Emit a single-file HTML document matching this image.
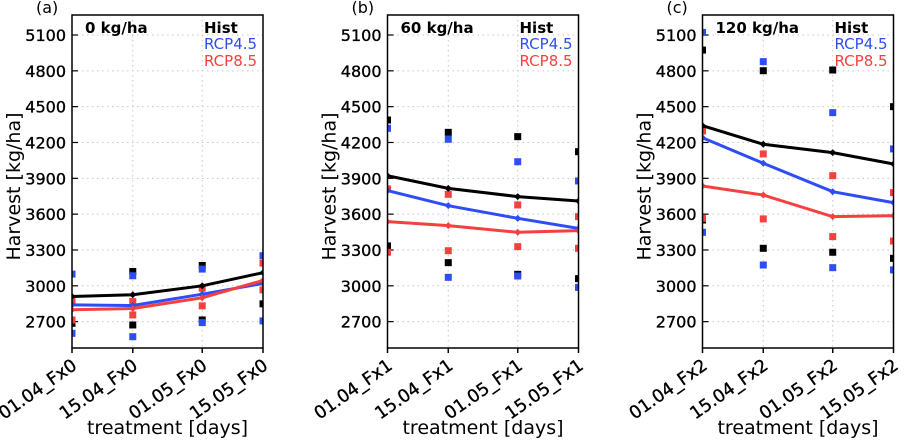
<!DOCTYPE html>
<html><head><meta charset="utf-8"><style>
body{margin:0;background:#fff}
svg{display:block;font-family:"DejaVu Sans","Liberation Sans",sans-serif}
</style></head><body>
<svg id="c" width="912" height="441" viewBox="0 0 912 441"></svg>
<script>
const yTicks=[2700,3000,3300,3600,3900,4200,4500,4800,5100];
const days=[0,14,30,44];
const panelLetters=["(a)","(b)","(c)"];
const panelTitles=["0 kg/ha","60 kg/ha","120 kg/ha"];
const catLabels=[["01.04_Fx0","15.04_Fx0","01.05_Fx0","15.05_Fx0"],["01.04_Fx1","15.04_Fx1","01.05_Fx1","15.05_Fx1"],["01.04_Fx2","15.04_Fx2","01.05_Fx2","15.05_Fx2"]];
const histMean=[[2910,2925,3000,3110],[3922,3816,3747,3710],[4341,4185,4115,4020]];
const rcp45Mean=[[2840,2835,2930,3020],[3797,3671,3565,3481],[4240,4026,3788,3696]];
const rcp85Mean=[[2800,2810,2900,3045],[3537,3504,3448,3462],[3836,3760,3579,3587]];
const histPts=[[[2686],[3120,2672],[3170,2714],[2849]],[[4388,3334],[4285,3194],[4249,3096],[4123,3060]],[[4974,3551],[4801,3314],[4807,3281],[4500,3230]]];
const rcp45Pts=[[[3098,2602],[3084,2574],[3140,2692],[3252,2706]],[[4319],[4227,3071],[4039,3082],[3878,2987]],[[5122,3448],[4877,3174],[4450,3152],[4146,3133]]];
const rcp85Pts=[[[2868,2714],[2868,2756],[2980,2832],[3190,2966]],[[3811,3281],[3766,3294],[3677,3328],[3579,3314]],[[4296,3565],[4104,3560],[3922,3412],[3780,3375]]];
const colors={hist:"#000",r45:"#2e4df5",r85:"#f54040"};
const lefts=[72,387.5,702.5], W=191, TOP=15, BOT=348;
const svg=document.getElementById('c');
const NS="http://www.w3.org/2000/svg";
function mk(t,a,p){const e=document.createElementNS(NS,t);for(const k in a)e.setAttribute(k,a[k]);(p||svg).appendChild(e);return e;}
const yS=v=>35+(5100-v)/300*35.83;
lefts.forEach((L,pi)=>{
  const xS=d=>L+d/44*W;
  const g=mk('g',{});
  
  
  const cp=mk('clipPath',{id:'cp'+pi},g);
  mk('rect',{x:L,y:TOP,width:W,height:BOT-TOP},cp);
  yTicks.forEach(v=>{
    const y=yS(v);
    const gl=mk('line',{x1:L,x2:L+W,y1:y,y2:y,stroke:'#c8c8c8','stroke-width':1,'stroke-dasharray':'1.5,3.5'},g);
    
    const tk=mk('line',{x1:L,x2:L+6,y1:y,y2:y,stroke:'#000','stroke-width':1.2},g);
    
    const t=mk('text',{x:L-6,y:y+6,'text-anchor':'end','font-size':16,fill:'#000',stroke:'#000','stroke-width':0.35},g);
    t.textContent=v;
  });
  days.forEach((d,i)=>{
    const x=xS(d);
    mk('line',{x1:x,x2:x,y1:TOP,y2:BOT,stroke:'#c8c8c8','stroke-width':1,'stroke-dasharray':'1.5,3.5'},g);
    mk('line',{x1:x,x2:x,y1:BOT,y2:BOT+5,stroke:'#000','stroke-width':1.5},g);
    const t=mk('text',{x:x+6,y:BOT+20,'text-anchor':'end','font-size':17.5,stroke:'#000','stroke-width':0.35,transform:`rotate(-35 ${x+6} ${BOT+20})`},g);
    t.textContent=catLabels[pi][i];
  });
  const cg=mk('g',{'clip-path':`url(#cp${pi})`},g);
  [[histPts,'hist'],[rcp45Pts,'r45'],[rcp85Pts,'r85']].forEach(([arr,k])=>{
    arr[pi].forEach((vals,i)=>vals.forEach(v=>{
      const r=mk('rect',{x:xS(days[i])-3.5,y:yS(v)-3.5,width:7,height:7,fill:colors[k]},cg);
      
    }));
  });
  [[histMean,'hist'],[rcp45Mean,'r45'],[rcp85Mean,'r85']].forEach(([arr,k])=>{
    const pts=arr[pi].map((v,i)=>xS(days[i])+','+yS(v)).join(' ');
    const pl=mk('polyline',{points:pts,fill:'none',stroke:colors[k],'stroke-width':3},cg);
    
    arr[pi].forEach((v,i)=>{const x=xS(days[i]),y=yS(v);mk('path',{d:`M${x-3.5},${y}L${x},${y-3.5}L${x+3.5},${y}L${x},${y+3.5}Z`,fill:colors[k]},cg);});
  });
  const fr=mk('rect',{x:L,y:TOP,width:W,height:BOT-TOP,fill:'none',stroke:'#000','stroke-width':1.5},g);
  
  const pl=mk('text',{x:L-36,y:13,'font-size':16},g);pl.textContent=panelLetters[pi];
  
  const tt=mk('text',{x:L+13,y:33,'font-size':15,'font-weight':'bold'},g);tt.textContent=panelTitles[pi];
  
  [['Hist','#000',33],['RCP4.5',colors.r45,49],['RCP8.5',colors.r85,66]].forEach(([s,c,y],j)=>{
    const t=mk('text',{x:L+132,y:y,'font-size':15,fill:c,'font-weight':j==0?'bold':'normal'},g);t.textContent=s;
    
  });
  const yt=mk('text',{x:0,y:0,'font-size':19,'text-anchor':'middle',transform:`translate(${L-52},${(TOP+BOT)/2+5}) rotate(-90)`},g);
  yt.textContent='Harvest [kg/ha]';
  const xt=mk('text',{x:L+W/2,y:434,'font-size':19,'text-anchor':'middle'},g);
  xt.textContent='treatment [days]';
});
</script>
</body></html>
